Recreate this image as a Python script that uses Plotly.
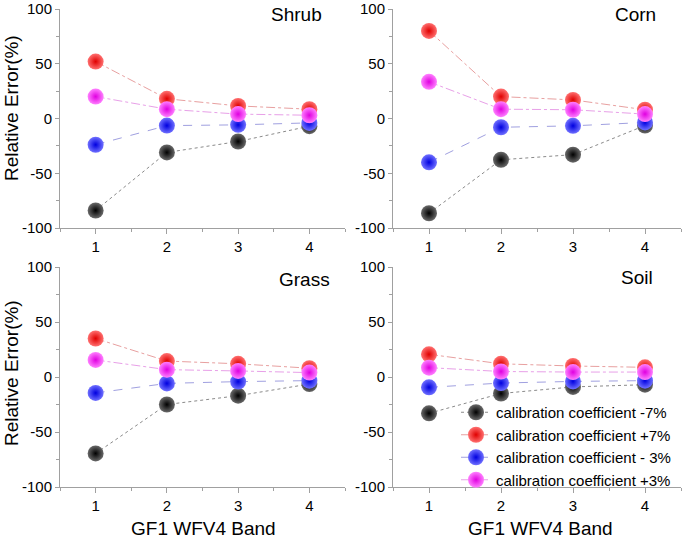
import plotly.graph_objects as go

bands = [1, 2, 3, 4]
panels = ['Shrub', 'Corn', 'Grass', 'Soil']
series_names = ['calibration coefficient -7%', 'calibration coefficient +7%',
                'calibration coefficient - 3%', 'calibration coefficient +3%']
y_tickvals = [-100, -50, 0, 50, 100]
y_ticktext = ['-100', '-50', '0', '50', '100']

# relative error (%) per panel, per series (-7%, +7%, -3%, +3%)
shrub = [[-84, -31, -21, -7], [52, 18, 11.5, 8.5], [-24, -6.5, -5.8, -4], [20, 8.5, 4, 3]]
corn = [[-86.5, -37.7, -33, -6.4], [80, 20, 17, 8], [-40, -8, -6.7, -3.6], [33.5, 8.5, 8, 4]]
grass = [[-69.5, -25, -17, -6.4], [35, 14.5, 12, 8], [-14.5, -5.8, -4.2, -3.3], [15.5, 6.7, 5.5, 4]]
soil = [[-33, -15, -9, -7], [20.6, 12, 10, 8.8], [-9.4, -5.5, -4, -3.3], [8.5, 5, 4.5, 4.5]]
panel_data = [shrub, corn, grass, soil]

# sphere look: centre highlight -> edge colour
marker_center = ['#6a6a6a', '#ff7070', '#7070ff', '#ff80ff']
marker_edge = ['#000000', '#e00000', '#0000e0', '#e000e0']
line_colors = ['#8a8a8a', '#e8a0a0', '#a0a0e0', '#e8a0e8']
line_dash = ['dot', 'dashdot', 'dash', 'dashdot']

W, H = 685, 539
ML, MR, MT, MB = 60, 4, 9, 52
PW, PH = W - ML - MR, H - MT - MB
cols = [(0, (345 - ML) / PW), ((393 - ML) / PW, 1)]
rows = [((487 - 228) / PH, 1), (0, (487 - 267) / PH)]

fig = go.Figure()
font = 'Arial, Liberation Sans, sans-serif'
gray = '#a0a0a0'

for p in range(4):
    r, c = divmod(p, 2)
    ax = '' if p == 0 else str(p + 1)
    for s in range(4):
        fig.add_trace(go.Scatter(
            x=bands, y=panel_data[p][s],
            xaxis='x' + ax, yaxis='y' + ax,
            mode='lines+markers',
            name=series_names[s],
            showlegend=(p == 3),
            line=dict(color=line_colors[s], width=1, dash=line_dash[s]),
            marker=dict(size=16, color=marker_center[s],
                        gradient=dict(type='radial', color=marker_edge[s]),
                        line=dict(width=0)),
        ))
    xa = dict(domain=list(cols[c]), range=[0.5, 4.5], tickmode='array', tickvals=bands,
              showline=True, linecolor=gray, linewidth=1, ticks='outside',
              ticklen=5, tickcolor=gray, showgrid=False, zeroline=False,
              minor=dict(ticks='outside', ticklen=3, dtick=0.5, tick0=0.5, tickcolor=gray),
              tickfont=dict(size=15, color='black', family=font),
              anchor='y' + ax)
    ya = dict(domain=list(rows[r]), range=[-100, 100], tickmode='array',
              tickvals=y_tickvals, ticktext=y_ticktext,
              showline=True, linecolor=gray, linewidth=1,
              ticks='outside', ticklen=4, tickcolor=gray, showgrid=False,
              zeroline=False,
              minor=dict(ticks='outside', ticklen=3, dtick=25, tick0=-100, tickcolor=gray),
              tickfont=dict(size=15, color='black', family=font),
              anchor='x' + ax)
    fig.update_layout(**{'xaxis' + ax: xa, 'yaxis' + ax: ya})

annotations = []
label_pos = [(324, 14), (658, 14), (332, 279), (655, 277)]
for p in range(4):
    annotations.append(dict(text=panels[p], x=label_pos[p][0], y=label_pos[p][1],
                            xanchor='right', yanchor='middle',
                            font=dict(size=19, color='black', family=font)))
for yc in [108, 373]:
    annotations.append(dict(text='Relative Error(%)', x=11, y=yc, textangle=-90,
                            xanchor='center', yanchor='middle',
                            font=dict(size=19, color='black', family=font)))
for xc in [203, 540]:
    annotations.append(dict(text='GF1 WFV4 Band', x=xc, y=528,
                            xanchor='center', yanchor='middle',
                            font=dict(size=19, color='black', family=font)))
# pixel positions -> plot-area paper fractions
for a in annotations:
    a['x'] = (a['x'] - ML) / PW
    a['y'] = (H - MB - a['y']) / PH
    a.update(xref='paper', yref='paper', showarrow=False)

fig.update_layout(
    width=W, height=H,
    margin=dict(l=ML, r=MR, t=MT, b=MB, autoexpand=False),
    paper_bgcolor='white', plot_bgcolor='white',
    annotations=annotations,
    legend=dict(x=(456 - ML) / PW, y=(H - MB - 446) / PH, xanchor='left', yanchor='middle',
                bgcolor='rgba(0,0,0,0)', font=dict(size=15, color='black', family=font),
                tracegroupgap=0, itemwidth=30),
)
fig.write_html('out.html', config={'displayModeBar': False},
               post_script="document.body.style.margin='0';")
